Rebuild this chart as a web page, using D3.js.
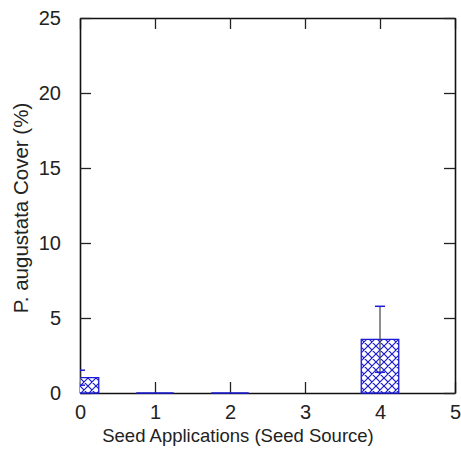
<!DOCTYPE html>
<html>
<head>
<meta charset="utf-8">
<script src="https://cdn.jsdelivr.net/npm/d3@7/dist/d3.min.js"></script>
<style>
	body { margin: 0; background: #fff; }
	text { font-family: "Liberation Sans", Arial, sans-serif; fill: #222; }
</style>
</head>
<body>
<svg id="chart" width="461" height="454"></svg>
<script>
	'use strict';

	// seed applications on the x axis, mean cover and its error
	var applications = [0, 1, 2, 4];
	var cover = [1.02, 0, 0, 3.58];
	var coverErr = [0.5, 0, 0, 2.2];

	var xTicks = [0, 1, 2, 3, 4, 5];
	var yTicks = [0, 5, 10, 15, 20, 25];

	var svg = d3.select('#chart');
	var margin = { left: 80, top: 18, right: 6, bottom: 61 };
	var width = 461 - margin.left - margin.right,
		height = 454 - margin.top - margin.bottom;

	var x = d3.scaleLinear().domain([0, 5]).range([0, width]);
	var y = d3.scaleLinear().domain([0, 25]).range([height, 0]);

	var defs = svg.append('defs');
	var pat = defs.append('pattern')
		.attr('id', 'hatch')
		.attr('patternUnits', 'userSpaceOnUse')
		.attr('width', 8)
		.attr('height', 8);
	pat.append('rect').attr('width', 8).attr('height', 8).attr('fill', '#fff');
	pat.append('path')
		.attr('d', 'M0,0L8,8M8,0L0,8M-1,7L1,9M7,-1L9,1M-1,1L1,-1M7,9L9,7')
		.attr('stroke', '#1a1ad6')
		.attr('stroke-width', 1.2);

	// clip only at the left/right edges so the baseline outlines stay visible
	defs.append('clipPath').attr('id', 'plotclip')
		.append('rect').attr('y', -10).attr('width', width).attr('height', height + 15);

	var g = svg.append('g').attr('transform', 'translate(' + margin.left + ',' + margin.top + ')');

	var plot = g.append('g').attr('clip-path', 'url(#plotclip)');
	var barW = 0.5;

	// bars drawn as paths so zero-height bars still show their outline
	plot.selectAll('path.bar')
			.data(applications)
		.enter()
			.append('path')
			.attr('class', 'bar')
			.attr('d', function (d, i) {
				var x0 = x(d - barW / 2), x1 = x(d + barW / 2),
					y0 = y(0), y1 = y(cover[i]);
				return 'M' + x0 + ',' + y0 + 'L' + x0 + ',' + y1 + 'L' + x1 + ',' + y1 + 'L' + x1 + ',' + y0 + 'Z';
			})
			.attr('fill', 'url(#hatch)')
			.attr('stroke', '#1a1ad6')
			.attr('stroke-width', 1.3);

	// error bars: dark stem, blue caps
	var errData = applications.map(function (d, i) {
		return { x: d, lo: cover[i] - coverErr[i], hi: cover[i] + coverErr[i] };
	}).filter(function (d) { return d.hi > d.lo; });

	plot.selectAll('line.stem')
			.data(errData)
		.enter()
			.append('line')
			.attr('x1', function (d) { return x(d.x); })
			.attr('x2', function (d) { return x(d.x); })
			.attr('y1', function (d) { return y(d.lo); })
			.attr('y2', function (d) { return y(d.hi); })
			.attr('stroke', '#444')
			.attr('stroke-width', 1.2);

	['lo', 'hi'].forEach(function (k) {
		plot.selectAll('line.cap-' + k)
				.data(errData)
			.enter()
				.append('line')
				.attr('x1', function (d) { return x(d.x) - 5; })
				.attr('x2', function (d) { return x(d.x) + 5; })
				.attr('y1', function (d) { return y(d[k]); })
				.attr('y2', function (d) { return y(d[k]); })
				.attr('stroke', '#1a1ad6')
				.attr('stroke-width', 1.5);
	});

	// axes, ticks pointing inward on all four sides
	var tickLen = 11;
	var fmt = d3.format('d');
	g.append('g')
		.attr('transform', 'translate(0,' + height + ')')
		.call(d3.axisBottom(x).tickValues(xTicks).tickFormat(fmt).tickSizeInner(-tickLen).tickSizeOuter(0).tickPadding(12))
		.call(function (a) { a.selectAll('text').style('font-size', '20px').attr('dy', '0.71em'); });
	g.append('g')
		.call(d3.axisTop(x).tickValues(xTicks).tickSizeInner(-tickLen).tickSizeOuter(0).tickFormat(''));
	g.append('g')
		.call(d3.axisLeft(y).tickValues(yTicks).tickFormat(fmt).tickSizeInner(-tickLen).tickSizeOuter(0).tickPadding(19))
		.call(function (a) { a.selectAll('text').style('font-size', '20px'); });
	g.append('g')
		.attr('transform', 'translate(' + width + ',0)')
		.call(d3.axisRight(y).tickValues(yTicks).tickSizeInner(-tickLen).tickSizeOuter(0).tickFormat(''));

	g.selectAll('.domain').attr('stroke', '#111').attr('stroke-width', 1.6);
	g.selectAll('.tick line').attr('stroke', '#222').attr('stroke-width', 1.3);
	g.selectAll('.tick text').attr('fill', '#222').style('font-family', '"Liberation Sans", Arial, sans-serif');

	// bar outlines sit on top of the bottom axis line
	g.node().appendChild(plot.node());

	svg.append('text')
		.attr('x', 238)
		.attr('y', 442)
		.attr('text-anchor', 'middle')
		.style('font-size', '18.5px')
		.text('Seed Applications (Seed Source)');

	svg.append('text')
		.attr('transform', 'translate(28,208) rotate(-90)')
		.attr('text-anchor', 'middle')
		.style('font-size', '20.5px')
		.text('P. augustata Cover (%)');
</script>
</body>
</html>
